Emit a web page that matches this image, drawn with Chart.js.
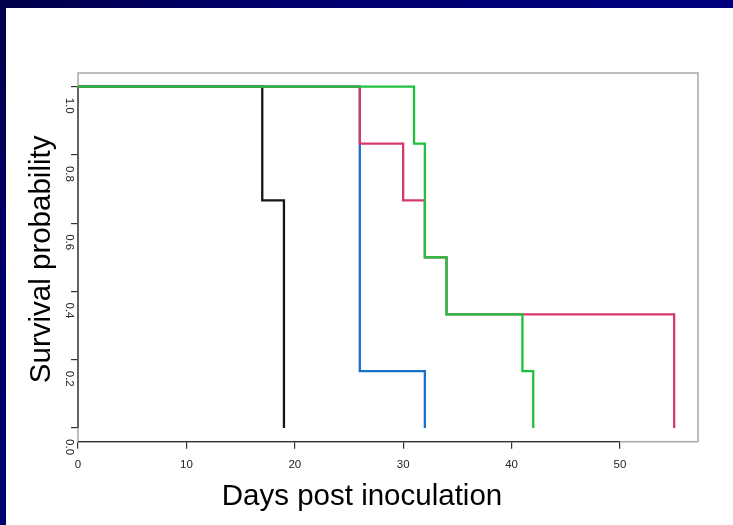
<!DOCTYPE html>
<html>
<head>
<meta charset="utf-8">
<script src="https://cdn.jsdelivr.net/npm/chart.js@4/dist/chart.umd.min.js"></script>
<style>
  html, body { margin: 0; padding: 0; background: #fff; }
  #wrap { position: relative; width: 733px; height: 525px; overflow: hidden; }
  #frameTop { position: absolute; left: 0; top: 0; width: 733px; height: 8px;
    background: linear-gradient(90deg, #00004a 0%, #000070 40%, #00007e 100%); }
  #frameLeft { position: absolute; left: 0; top: 0; width: 6px; height: 525px;
    background: linear-gradient(180deg, #00004a 0%, #000068 50%, #000070 100%); }
  canvas { position: absolute; left: 0; top: 0; }
</style>
</head>
<body>
<div id="wrap">
  <canvas id="kmChart" width="733" height="525"></canvas>
  <div id="frameTop"></div>
  <div id="frameLeft"></div>
</div>
<script>
// Kaplan-Meier survival per group: event days and survival after each step
const blackDays = [0, 17, 19];
const blackSurv = [1, 0.667, 0];
const blueDays = [0, 26, 32];
const blueSurv = [1, 0.167, 0];
const redDays = [0, 26, 30, 32, 34, 55];
const redSurv = [1, 0.833, 0.667, 0.5, 0.333, 0];
const greenDays = [0, 31, 32, 34, 41, 42];
const greenSurv = [1, 0.833, 0.5, 0.333, 0.167, 0];

const xTicks = [0, 10, 20, 30, 40, 50];
const yTicks = [0, 0.2, 0.4, 0.6, 0.8, 1.0];
const yTickLabels = ['0.0', '0.2', '0.4', '0.6', '0.8', '1.0'];

const xTitle = 'Days post inoculation';
const yTitle = 'Survival probability';

function toPoints(days, surv) {
  return days.map((d, i) => ({ x: d, y: surv[i] }));
}

function curve(days, surv, color, order) {
  return {
    data: toPoints(days, surv),
    borderColor: color,
    borderWidth: 2.3,
    stepped: 'before',
    pointRadius: 0,
    fill: false,
    order: order
  };
}

const FONT = '"Liberation Sans", Arial, sans-serif';

// box, axis segments, rotated y labels and axis titles
const rAxes = {
  id: 'rAxes',
  beforeDatasetsDraw(chart) {
    const { ctx, chartArea: a, scales: { x, y } } = chart;
    ctx.save();
    ctx.strokeStyle = '#a8a8a8';
    ctx.lineWidth = 1.5;
    ctx.strokeRect(a.left, a.top, a.right - a.left, a.bottom - a.top);
    ctx.strokeStyle = '#333';
    ctx.lineWidth = 1.3;
    ctx.beginPath();
    ctx.moveTo(x.getPixelForValue(xTicks[0]), a.bottom);
    ctx.lineTo(x.getPixelForValue(xTicks[xTicks.length - 1]), a.bottom);
    ctx.moveTo(a.left, y.getPixelForValue(yTicks[0]));
    ctx.lineTo(a.left, y.getPixelForValue(yTicks[yTicks.length - 1]));
    ctx.stroke();
    ctx.restore();
  },
  afterDraw(chart) {
    const { ctx, chartArea: a, scales: { y } } = chart;
    ctx.save();
    ctx.fillStyle = '#222';
    ctx.font = '11.5px ' + FONT;
    ctx.textAlign = 'center';
    ctx.textBaseline = 'middle';
    yTicks.forEach((v, i) => {
      ctx.save();
      ctx.translate(69, y.getPixelForValue(v) + 19);
      ctx.rotate(Math.PI / 2);
      ctx.fillText(yTickLabels[i], 0, 0);
      ctx.restore();
    });

    ctx.fillStyle = '#000';
    ctx.font = '29.5px ' + FONT;
    ctx.fillText(xTitle, 362, 497);
    ctx.save();
    ctx.translate(42, (a.top + a.bottom) / 2 + 2);
    ctx.rotate(-Math.PI / 2);
    ctx.fillText(yTitle, 0, 0);
    ctx.restore();
    ctx.restore();
  }
};

const ctx = document.getElementById('kmChart');
const kmChart = new Chart(ctx, {
  type: 'line',
  data: {
    datasets: [
      curve(blackDays, blackSurv, '#151515', 3),
      curve(blueDays, blueSurv, '#1a70c8', 2),
      curve(redDays, redSurv, '#d8386f', 1),
      curve(greenDays, greenSurv, '#1ec13c', 0)
    ]
  },
  options: {
    responsive: false,
    animation: false,
    devicePixelRatio: 1,
    layout: { padding: { left: 0, top: 73, right: 35, bottom: 0 } },
    plugins: {
      legend: { display: false },
      tooltip: { enabled: false }
    },
    scales: {
      x: {
        type: 'linear',
        min: 0,
        max: 57.2,
        afterBuildTicks: s => { s.ticks = xTicks.map(v => ({ value: v })); },
        afterFit: s => { s.height = 83.3; },
        grid: { drawOnChartArea: false, drawTicks: true, tickLength: 7, color: '#333', lineWidth: 1.2 },
        border: { display: false },
        ticks: {
          color: '#222',
          font: { family: FONT, size: 11.5 },
          padding: 9,
          maxRotation: 0,
          callback: v => String(v)
        }
      },
      y: {
        type: 'linear',
        min: -0.04,
        max: 1.04,
        afterBuildTicks: s => { s.ticks = yTicks.map(v => ({ value: v })); },
        afterFit: s => { s.width = 78; },
        grid: { drawOnChartArea: false, drawTicks: true, tickLength: 7, color: '#333', lineWidth: 1.2 },
        border: { display: false },
        ticks: { display: false }
      }
    }
  },
  plugins: [rAxes]
});
</script>
</body>
</html>
